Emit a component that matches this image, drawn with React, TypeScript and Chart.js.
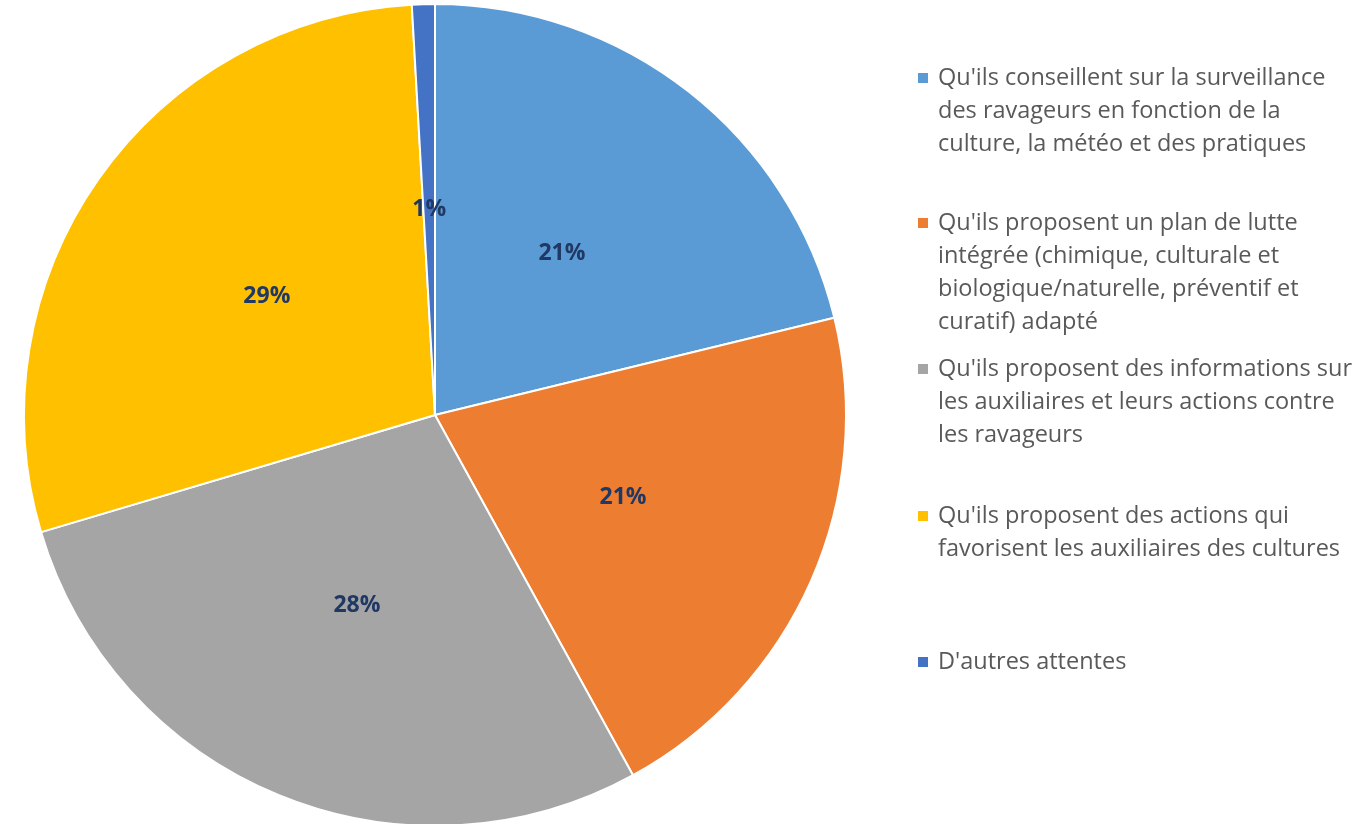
import React, { useEffect, useRef } from "react";
import { Chart, registerables } from "chart.js";

Chart.register(...registerables);

const categories = [
  "Qu'ils conseillent sur la surveillance des ravageurs en fonction de la culture, la météo et des pratiques",
  "Qu'ils proposent un plan de lutte intégrée (chimique, culturale et biologique/naturelle, préventif et curatif) adapté",
  "Qu'ils proposent des informations sur les auxiliaires et leurs actions contre les ravageurs",
  "Qu'ils proposent des actions qui favorisent les auxiliaires des cultures",
  "D'autres attentes",
];

const legendLines = [
  ["Qu'ils conseillent sur la surveillance", "des ravageurs en fonction de la", "culture, la météo et des pratiques"],
  ["Qu'ils proposent un plan de lutte", "intégrée (chimique, culturale et", "biologique/naturelle, préventif et", "curatif) adapté"],
  ["Qu'ils proposent des informations sur", "les auxiliaires et leurs actions contre", "les ravageurs"],
  ["Qu'ils proposent des actions qui", "favorisent les auxiliaires des cultures"],
  ["D'autres attentes"],
];

const values = [21.2, 20.8, 28.4, 28.7, 0.9];

const colors = ["#5B9BD5", "#ED7D31", "#A5A5A5", "#FFC000", "#4472C4"];

const LEGEND_FONT = "'Open Sans', sans-serif";
const LABEL_FONT = "bold 23px 'Open Sans', sans-serif";

const sliceLabelPlugin = {
  id: "sliceLabels",
  afterDatasetsDraw(chart: any) {
    const ctx = chart.ctx;
    const meta = chart.getDatasetMeta(0);
    const data = chart.data.datasets[0].data as number[];
    const total = data.reduce((a, b) => a + b, 0);
    ctx.save();
    ctx.font = LABEL_FONT;
    ctx.fillStyle = "#203864";
    ctx.textAlign = "center";
    ctx.textBaseline = "middle";
    meta.data.forEach((arc: any, i: number) => {
      const p = arc.tooltipPosition(false);
      const pct = Math.round((data[i] / total) * 100) + "%";
      ctx.fillText(pct, p.x, p.y);
    });
    ctx.restore();
  },
};

export default function App() {
  const canvasRef = useRef<HTMLCanvasElement | null>(null);

  useEffect(() => {
    if (!canvasRef.current) return;
    const chart = new Chart(canvasRef.current, {
      type: "pie",
      data: {
        labels: categories,
        datasets: [
          {
            data: values,
            backgroundColor: colors,
            borderColor: "#FFFFFF",
            borderWidth: 2,
            hoverOffset: 0,
          },
        ],
      },
      options: {
        responsive: false,
        animation: false,
        devicePixelRatio: 1,
        layout: { padding: { left: 23, right: 521, top: 3, bottom: 0 } },
        plugins: {
          legend: { display: false },
          tooltip: { enabled: false },
        },
      },
      plugins: [sliceLabelPlugin],
    });
    return () => chart.destroy();
  }, []);

  const slotCenters = [76, 221, 367, 514, 660];

  return (
    <div
      style={{
        position: "fixed",
        left: 0,
        top: 0,
        width: 1368,
        height: 824,
        overflow: "hidden",
        background: "#FFFFFF",
      }}
    >
      <canvas
        ref={canvasRef}
        width={1368}
        height={827}
        style={{ position: "absolute", left: 0, top: 0, width: 1368, height: 827 }}
      />
      {legendLines.map((lines, i) => (
        <div
          key={i}
          style={{
            position: "absolute",
            left: 918,
            top: slotCenters[i] - 16.5,
            width: 450,
          }}
        >
          <div
            style={{
              position: "absolute",
              left: 0,
              top: 13,
              width: 10,
              height: 10,
              background: colors[i],
            }}
          />
          <div
            style={{
              position: "absolute",
              left: 20,
              top: 0,
              fontFamily: LEGEND_FONT,
              fontSize: 23.5,
              lineHeight: "33px",
              color: "#595959",
              whiteSpace: "nowrap",
            }}
          >
            {lines.map((t, j) => (
              <div key={j}>{t}</div>
            ))}
          </div>
        </div>
      ))}
    </div>
  );
}
